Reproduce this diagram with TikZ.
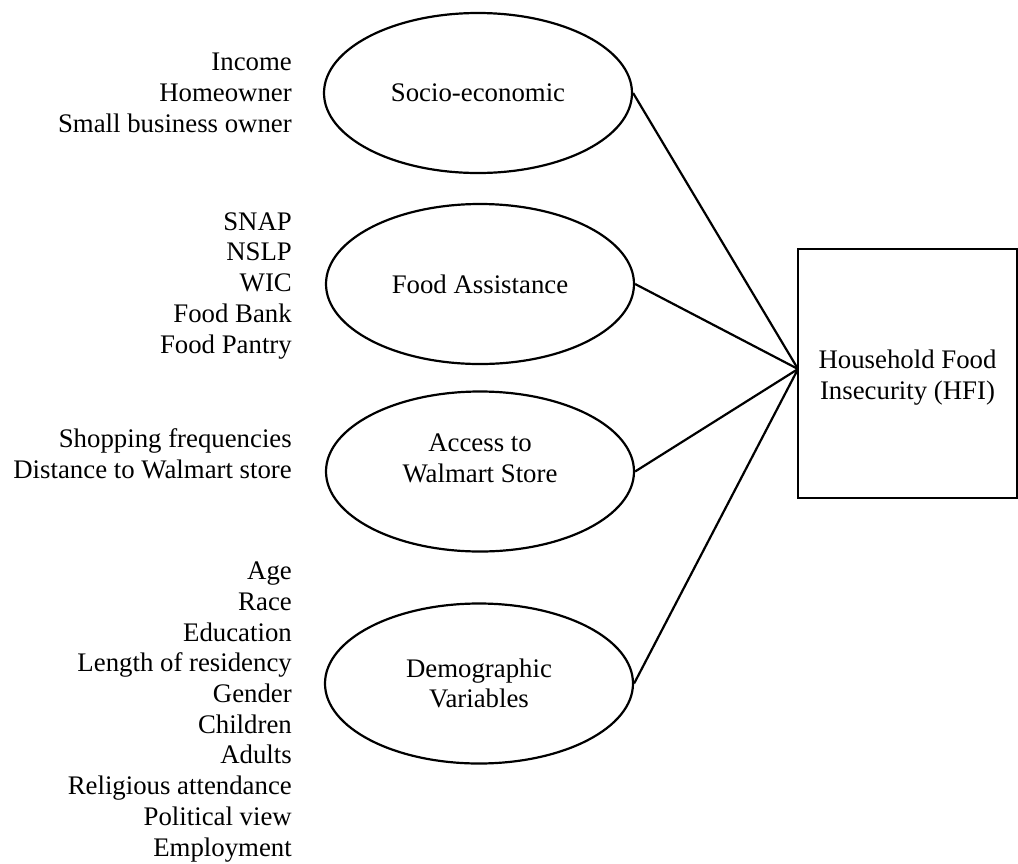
\documentclass[tikz,border=0pt]{standalone}
\usepackage{fontspec}
\setmainfont{Liberation Serif}
\usetikzlibrary{shapes.geometric}

\tikzset{
  factor/.style={ellipse, draw, line width=2.2pt, minimum width=308pt,
    minimum height=160pt, inner sep=0pt, align=center},
  items/.style={anchor=base east, align=right, inner sep=0pt},
  link/.style={line width=2.2pt},
}

\begin{document}
\begin{tikzpicture}[x=1pt, y=-1pt,
    every node/.style={font=\fontsize{26.8}{30.7}\selectfont}]
  \useasboundingbox (0,0) rectangle (1018,863);

  % factors
  \node[factor] (socio)  at (478,93)    {Socio-economic};
  \node[factor] (food)   at (480,284)   {Food Assistance};
  \node[factor, text depth=27pt] (access) at (480,471.5) {Access to\\Walmart Store};
  \node[factor] (demo)   at (479,683.5) {Demographic\\Variables};

  % observed variables (anchored at the last line)
  \node[items] (socio-list)  at (292,132) {Income\\Homeowner\\Small business owner};
  \node[items] (food-list)   at (292,353) {SNAP\\NSLP\\WIC\\Food Bank\\Food Pantry};
  \node[items] (access-list) at (292,478) {Shopping frequencies\\Distance to Walmart store};
  \node[items] (demo-list)   at (292,856) {Age\\Race\\Education\\Length of residency\\Gender\\Children\\Adults\\Religious attendance\\Political view\\Employment};

  % outcome
  \node[draw, line width=2.6pt, minimum width=219pt, minimum height=249pt,
    inner sep=0pt, align=center, text height=57pt] (hfi) at (907.5,373.5)
    {Household Food\\Insecurity (HFI)};
  \coordinate (hub) at (798,369);

  \draw[link] (socio.east)  -- (hub);
  \draw[link] (food.east)   -- (hub);
  \draw[link] (access.east) -- (hub);
  \draw[link] (demo.east)   -- (hub);
\end{tikzpicture}
\end{document}
